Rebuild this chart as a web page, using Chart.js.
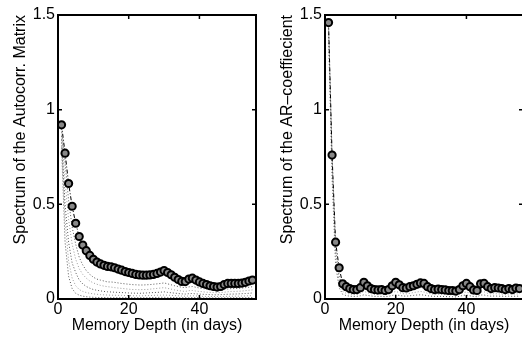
<!DOCTYPE html>
<html lang="en">
<head>
  <meta charset="UTF-8" />
  <title>Spectrum vs memory depth</title>
  <script src="https://cdn.jsdelivr.net/npm/chart.js"></script>
</head>
<style>
    html, body {
      margin: 0;
      padding: 0;
      width: 522px;
      height: 346px;
      overflow: hidden;
      background: #fff;
    }
    .panel {
      position: absolute;
      top: 0;
      width: 262px;
      height: 346px;
    }
    #left { left: 0; }
    #right { left: 267px; }
  </style>
<body>
  <div class="panel" id="left"><canvas id="chartLeft"></canvas></div>
  <div class="panel" id="right"><canvas id="chartRight"></canvas></div>
  <script>
// memory depth (days)
const days = [1,2,3,4,5,6,7,8,9,10,11,12,13,14,15,16,17,18,19,20,21,22,23,24,25,26,27,28,29,30,
  31,32,33,34,35,36,37,38,39,40,41,42,43,44,45,46,47,48,49,50,51,52,53,54,55];
const xTicks = [0, 20, 40];
const yTicks = [0, 0.5, 1, 1.5];

// left panel: spectrum of the autocorrelation matrix
const autocorrMain = [0.92,0.77,0.61,0.49,0.40,0.33,0.285,0.255,0.23,0.21,
  0.195,0.185,0.178,0.172,0.17,0.165,0.158,0.152,0.145,0.14,
  0.135,0.13,0.127,0.126,0.126,0.127,0.13,0.135,0.142,0.15,
  0.14,0.128,0.115,0.103,0.093,0.092,0.105,0.11,0.10,0.09,
  0.082,0.076,0.07,0.066,0.063,0.066,0.076,0.082,0.082,0.082,
  0.082,0.084,0.088,0.095,0.10];
const autocorrD1 = [0.90,0.72,0.52,0.38,0.29,0.22,0.18,0.15,0.13,0.115,
  0.105,0.10,0.095,0.09,0.09,0.088,0.085,0.082,0.08,0.078,
  0.076,0.075,0.074,0.074,0.075,0.076,0.078,0.08,0.082,0.085,
  0.08,0.075,0.07,0.066,0.062,0.06,0.064,0.066,0.062,0.058,
  0.055,0.052,0.05,0.048,0.046,0.047,0.05,0.053,0.055,0.055,
  0.056,0.058,0.06,0.062,0.065];
const autocorrD2 = [0.88,0.62,0.42,0.29,0.21,0.16,0.13,0.11,0.095,0.085,
  0.078,0.072,0.068,0.065,0.063,0.06,0.058,0.056,0.054,0.052,
  0.05,0.05,0.049,0.05,0.05,0.052,0.054,0.056,0.058,0.06,
  0.056,0.052,0.048,0.045,0.042,0.04,0.044,0.045,0.042,0.04,
  0.038,0.036,0.035,0.034,0.033,0.034,0.036,0.038,0.04,0.04,
  0.041,0.042,0.044,0.046,0.048];
const autocorrD3 = [0.86,0.50,0.30,0.19,0.14,0.10,0.08,0.066,0.057,0.05,
  0.046,0.043,0.04,0.038,0.037,0.036,0.035,0.034,0.033,0.032,
  0.031,0.031,0.03,0.031,0.032,0.033,0.034,0.035,0.036,0.038,
  0.035,0.033,0.031,0.029,0.027,0.026,0.028,0.029,0.027,0.026,
  0.025,0.024,0.023,0.022,0.022,0.023,0.024,0.025,0.026,0.026,
  0.027,0.028,0.029,0.03,0.032];
const autocorrD4 = [0.84,0.42,0.20,0.11,0.07,0.05,0.04,0.034,0.03,0.027,
  0.025,0.023,0.022,0.021,0.02,0.02,0.019,0.019,0.018,0.018,
  0.017,0.017,0.017,0.017,0.018,0.018,0.019,0.02,0.02,0.021,
  0.02,0.019,0.018,0.017,0.016,0.015,0.016,0.017,0.016,0.015,
  0.014,0.014,0.013,0.013,0.013,0.013,0.014,0.014,0.015,0.015,
  0.015,0.016,0.016,0.017,0.018];
const autocorrD5 = [0.80,0.30,0.12,0.055,0.03,0.02,0.015,0.012,0.01,0.009,
  0.008,0.008,0.008,0.007,0.007,0.007,0.007,0.007,0.007,0.007,
  0.007,0.007,0.007,0.007,0.007,0.008,0.008,0.008,0.009,0.009,
  0.008,0.008,0.008,0.007,0.007,0.007,0.007,0.008,0.007,0.007,
  0.006,0.006,0.006,0.006,0.006,0.006,0.006,0.006,0.007,0.007,
  0.007,0.007,0.007,0.008,0.008];

// right panel: spectrum of the AR coefficient
const arMain = [1.46,0.76,0.30,0.165,0.08,0.065,0.055,0.05,0.05,0.06,
  0.088,0.07,0.055,0.05,0.048,0.05,0.045,0.05,0.07,0.088,
  0.075,0.06,0.058,0.065,0.07,0.078,0.085,0.082,0.065,0.055,
  0.05,0.052,0.05,0.048,0.045,0.045,0.042,0.05,0.07,0.082,
  0.065,0.048,0.045,0.08,0.082,0.065,0.055,0.06,0.058,0.055,
  0.05,0.055,0.05,0.058,0.055];
const arD1 = [1.45,0.74,0.26,0.12,0.06,0.045,0.04,0.035,0.035,0.045,
  0.06,0.05,0.04,0.035,0.035,0.035,0.03,0.035,0.05,0.06,
  0.05,0.04,0.04,0.045,0.05,0.055,0.06,0.055,0.045,0.04,
  0.035,0.037,0.035,0.034,0.032,0.032,0.03,0.035,0.05,0.055,
  0.045,0.034,0.032,0.055,0.056,0.045,0.04,0.042,0.04,0.038,
  0.035,0.038,0.035,0.04,0.038];
const arD2 = [1.43,0.70,0.22,0.09,0.04,0.03,0.026,0.024,0.024,0.03,
  0.04,0.034,0.028,0.025,0.024,0.025,0.022,0.025,0.034,0.04,
  0.034,0.028,0.027,0.03,0.034,0.037,0.04,0.037,0.03,0.027,
  0.024,0.025,0.024,0.023,0.022,0.022,0.02,0.024,0.034,0.037,
  0.03,0.023,0.022,0.037,0.038,0.03,0.027,0.028,0.027,0.026,
  0.024,0.026,0.024,0.027,0.026];
const arD3 = [1.40,0.64,0.18,0.06,0.025,0.018,0.015,0.014,0.014,0.017,
  0.022,0.019,0.016,0.014,0.014,0.014,0.012,0.014,0.019,0.022,
  0.019,0.016,0.015,0.017,0.019,0.021,0.022,0.021,0.017,0.015,
  0.014,0.014,0.014,0.013,0.012,0.012,0.011,0.014,0.019,0.021,
  0.017,0.013,0.012,0.021,0.021,0.017,0.015,0.016,0.015,0.015,
  0.014,0.015,0.014,0.015,0.015];

const FONT = { family: "'Liberation Sans', Arial, Helvetica, sans-serif", size: 16 };

function pts(arr) {
  return arr.map((v, i) => ({ x: days[i], y: v }));
}

// frame box with inward tick marks (matlab style)
const framePlugin = {
  id: 'frame',
  afterDatasetsDraw(chart) {
    const { ctx, chartArea: a, scales } = chart;
    ctx.save();
    ctx.strokeStyle = '#000';
    ctx.lineWidth = 2;
    ctx.strokeRect(a.left, a.top, a.right - a.left, a.bottom - a.top);
    ctx.lineWidth = 1.5;
    ctx.beginPath();
    xTicks.forEach(v => {
      const px = scales.x.getPixelForValue(v);
      ctx.moveTo(px, a.bottom); ctx.lineTo(px, a.bottom - 4);
      ctx.moveTo(px, a.top); ctx.lineTo(px, a.top + 4);
    });
    yTicks.forEach(v => {
      const py = scales.y.getPixelForValue(v);
      ctx.moveTo(a.left, py); ctx.lineTo(a.left + 4, py);
      ctx.moveTo(a.right, py); ctx.lineTo(a.right - 4, py);
    });
    ctx.stroke();
    ctx.restore();
  }
};

function makeChart(id, main, dotted, yTitle) {
  const datasets = [{
    data: pts(main),
    borderColor: '#000',
    borderWidth: 1,
    borderDash: [4, 2, 1, 2],
    pointRadius: 3.6,
    pointBackgroundColor: '#888',
    pointBorderColor: '#000',
    pointBorderWidth: 2,
    order: 0
  }];
  dotted.forEach((d, k) => {
    datasets.push({
      data: pts(d),
      borderColor: k % 2 ? '#999' : '#555',
      borderWidth: 1,
      borderDash: [1, 2],
      pointRadius: 0,
      order: 1 + k
    });
  });

  new Chart(document.getElementById(id).getContext('2d'), {
    type: 'line',
    data: { datasets: datasets },
    options: {
      responsive: false,
      animation: false,
      devicePixelRatio: 1,
      layout: { padding: { top: 15, right: 3, bottom: 0, left: 0 } },
      plugins: { legend: { display: false }, tooltip: { enabled: false } },
      scales: {
        x: {
          type: 'linear',
          min: 0,
          max: 56,
          afterBuildTicks: s => { s.ticks = xTicks.map(v => ({ value: v })); },
          afterFit: s => { s.height = 47; },
          grid: { display: false, drawTicks: false, tickLength: 0 },
          border: { display: false },
          ticks: { color: '#000', font: FONT, padding: 1, maxRotation: 0 },
          title: { display: true, text: 'Memory Depth (in days)', color: '#000', font: FONT, padding: { top: 0, bottom: 11 } }
        },
        y: {
          min: 0,
          max: 1.5,
          afterBuildTicks: s => { s.ticks = yTicks.map(v => ({ value: v })); },
          afterFit: s => { s.width = 58; },
          grid: { display: false, drawTicks: false, tickLength: 0 },
          border: { display: false },
          ticks: { color: '#000', font: FONT, padding: 3, callback: v => String(v) },
          title: { display: true, text: yTitle, align: 'end', color: '#000', font: FONT, padding: { top: 11, bottom: 0 } }
        }
      }
    },
    plugins: [framePlugin]
  });
}

document.querySelectorAll('canvas').forEach(c => { c.width = 262; c.height = 346; });

makeChart('chartLeft', autocorrMain, [autocorrD1, autocorrD2, autocorrD3, autocorrD4, autocorrD5],
  'Spectrum of the Autocorr. Matrix');
makeChart('chartRight', arMain, [arD1, arD2, arD3], 'Spectrum of the AR\u2013coeffiecient');
  </script>
</body>
</html>
